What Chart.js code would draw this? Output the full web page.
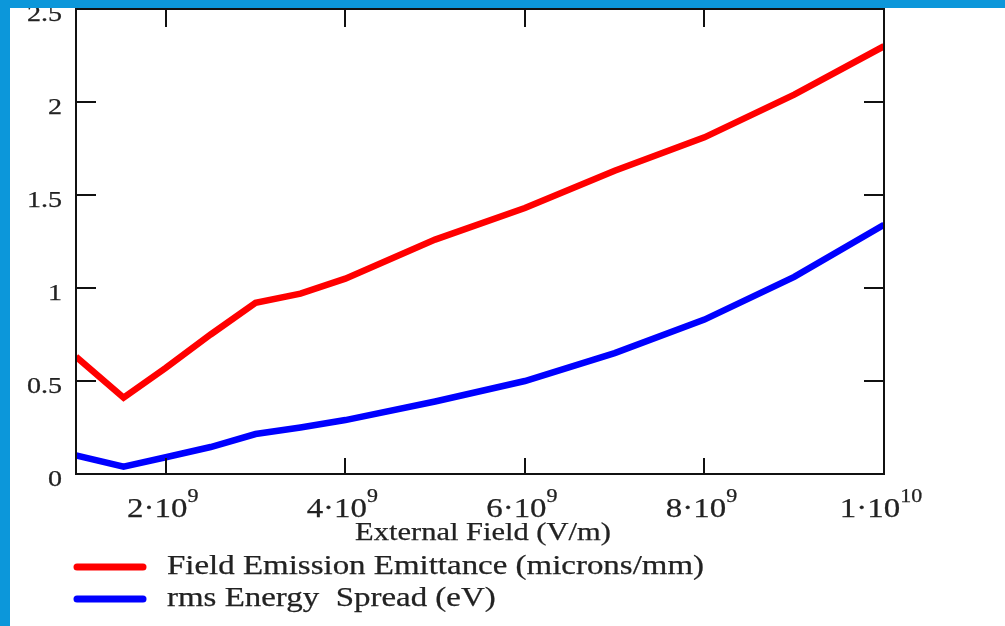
<!DOCTYPE html>
<html>
<head>
<meta charset="utf-8">
<script src="https://cdn.jsdelivr.net/npm/chart.js@4.4.1/dist/chart.umd.min.js"></script>
<style>
  body { margin: 0; background: #fff; }
  canvas { display: block; }
</style>
</head>
<body>
<canvas id="chart" width="1005" height="626"></canvas>
<script>
// field values (V/m)
const fieldValues = [1e9, 1.53e9, 2e9, 2.5e9, 3e9, 3.5e9, 4e9, 5e9, 6e9, 7e9, 8e9, 9e9, 1e10];
const emittance = [0.63, 0.41, 0.57, 0.75, 0.92, 0.97, 1.05, 1.26, 1.43, 1.63, 1.81, 2.04, 2.3];
const energySpread = [0.10, 0.04, 0.09, 0.145, 0.215, 0.25, 0.29, 0.39, 0.50, 0.65, 0.83, 1.06, 1.34];

const xTicks = [2e9, 4e9, 6e9, 8e9, 1e10];
const xTickLabels = [["2·10", "9"], ["4·10", "9"], ["6·10", "9"], ["8·10", "9"], ["1·10", "10"]];
const yTicks = [0, 0.5, 1, 1.5, 2, 2.5];
const yTickLabels = ["0", "0.5", "1", "1.5", "2", "2.5"];

const xTitle = "External Field (V/m)";
const seriesNames = ["Field Emission Emittance (microns/mm)", "rms Energy  Spread (eV)"];
const seriesColors = ["#ff0000", "#0000ff"];

const SX = 1.22; // the picture is stretched sideways
const FONT = '"Liberation Serif", "Times New Roman", serif';
const INK = "#222";

function points(ys) {
  return fieldValues.map((x, i) => ({ x: x, y: ys[i] }));
}

function txt(ctx, s, x, y, size, align) {
  ctx.save();
  ctx.translate(x, y);
  ctx.scale(SX, 1);
  ctx.font = size + "px " + FONT;
  ctx.fillStyle = INK;
  ctx.strokeStyle = INK;
  ctx.lineWidth = 0.25;
  ctx.textAlign = align;
  ctx.textBaseline = "middle";
  ctx.fillText(s, 0, 0);
  ctx.strokeText(s, 0, 0);
  ctx.restore();
}

function textWidth(ctx, s, size) {
  ctx.save();
  ctx.font = size + "px " + FONT;
  const w = ctx.measureText(s).width * SX;
  ctx.restore();
  return w;
}

const decorations = {
  id: "decorations",
  afterDraw(chart) {
    const ctx = chart.ctx;
    const a = chart.chartArea;
    const xs = chart.scales.x;
    const ys = chart.scales.y;

    // frame
    ctx.save();
    ctx.strokeStyle = "#111";
    ctx.lineWidth = 2;
    ctx.strokeRect(a.left, a.top, a.right - a.left, a.bottom - a.top);

    // inward tick marks on all four sides
    ctx.beginPath();
    xTicks.forEach(v => {
      const px = Math.round(xs.getPixelForValue(v));
      ctx.moveTo(px, a.bottom); ctx.lineTo(px, a.bottom - 16);
      ctx.moveTo(px, a.top); ctx.lineTo(px, a.top + 18);
    });
    yTicks.forEach(v => {
      const py = Math.round(ys.getPixelForValue(v));
      ctx.moveTo(a.left, py); ctx.lineTo(a.left + 20, py);
      ctx.moveTo(a.right, py); ctx.lineTo(a.right - 20, py);
    });
    ctx.stroke();
    ctx.restore();

    // y tick labels
    yTicks.forEach((v, i) => {
      txt(ctx, yTickLabels[i], 62, ys.getPixelForValue(v) + 6, 23, "right");
    });

    // x tick labels with superscript exponent
    xTicks.forEach((v, i) => {
      const base = xTickLabels[i][0];
      const sup = xTickLabels[i][1];
      const w1 = textWidth(ctx, base, 27);
      const w2 = textWidth(ctx, sup, 18);
      const x0 = xs.getPixelForValue(v) - 3 - (w1 + w2) / 2;
      txt(ctx, base, x0, 510, 27, "left");
      txt(ctx, sup, x0 + w1, 497, 18, "left");
    });

    // axis title
    txt(ctx, xTitle, 483, 533, 25, "center");

    // legend
    chart.data.datasets.forEach((ds, i) => {
      const y = 567 + i * 32;
      ctx.save();
      ctx.strokeStyle = ds.borderColor;
      ctx.lineWidth = 7;
      ctx.lineCap = "round";
      ctx.beginPath();
      ctx.moveTo(77, y);
      ctx.lineTo(143, y);
      ctx.stroke();
      ctx.restore();
      txt(ctx, ds.label, 167, y, 27, "left");
    });

    // blue slide border
    ctx.save();
    ctx.fillStyle = "#0c97da";
    ctx.fillRect(0, 0, chart.width, 8);
    ctx.fillRect(0, 0, 10, chart.height);
    ctx.restore();
  }
};

new Chart(document.getElementById("chart"), {
  type: "line",
  data: {
    datasets: [
      {
        label: seriesNames[0],
        data: points(emittance),
        borderColor: seriesColors[0],
        borderWidth: 6.5,
        pointRadius: 0,
        tension: 0,
      },
      {
        label: seriesNames[1],
        data: points(energySpread),
        borderColor: seriesColors[1],
        borderWidth: 6.5,
        pointRadius: 0,
        tension: 0,
      },
    ],
  },
  options: {
    responsive: false,
    animation: false,
    devicePixelRatio: 1,
    layout: { padding: { top: 9, right: 121, left: 0, bottom: 0 } },
    plugins: { legend: { display: false }, tooltip: { enabled: false } },
    scales: {
      x: {
        type: "linear",
        min: 1e9,
        max: 1e10,
        grid: { display: false },
        border: { display: false },
        ticks: { display: false },
        afterFit: s => { s.height = 152; },
      },
      y: {
        min: 0,
        max: 2.5,
        grid: { display: false },
        border: { display: false },
        ticks: { display: false },
        afterFit: s => { s.width = 76; },
      },
    },
  },
  plugins: [decorations],
});
</script>
</body>
</html>
